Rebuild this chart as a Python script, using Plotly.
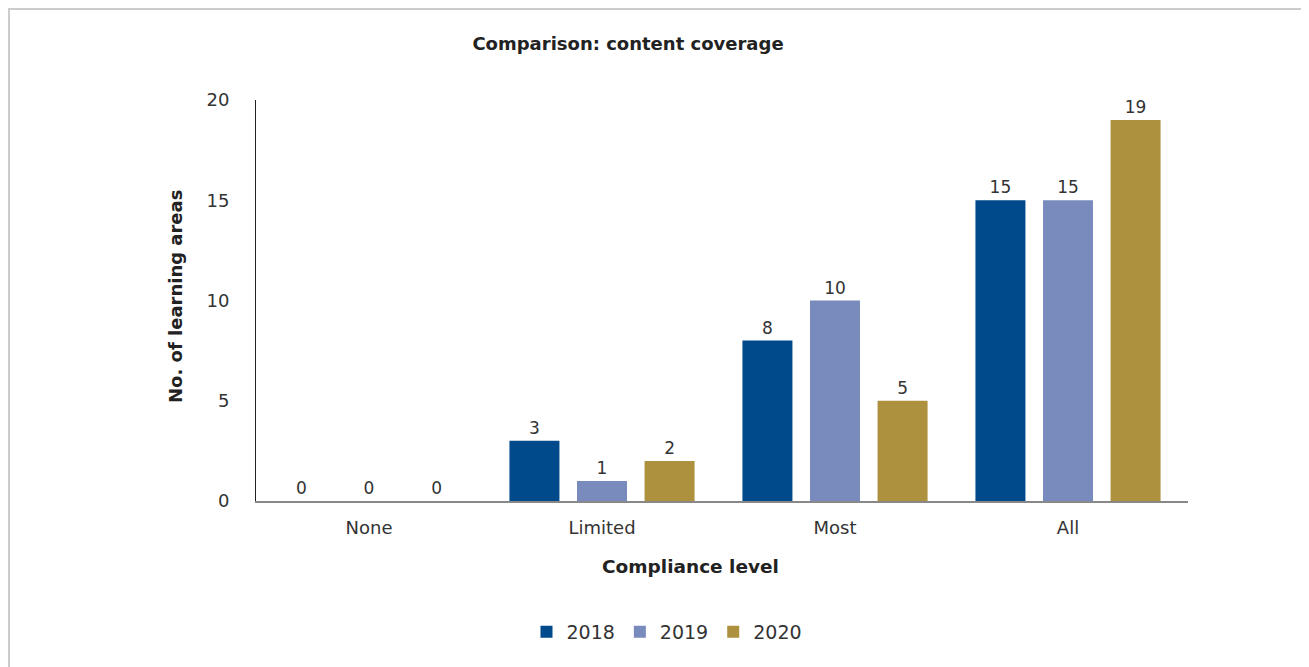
import plotly.graph_objects as go

categories = ["None", "Limited", "Most", "All"]
years = ["2018", "2019", "2020"]
values_2018 = [0, 3, 8, 15]
values_2019 = [0, 1, 10, 15]
values_2020 = [0, 2, 5, 19]
colors = ["#004A8C", "#798BBD", "#AD913E"]
y_ticks = [0, 5, 10, 15, 20]

OFF = 8  # default page body margin
W, H = 1309 - OFF, 667 - OFF
# plot area in reference pixels: x 256..1188, y 100..501
L = 256 - OFF
R = W - (1188 - OFF)
T = 100 - OFF
B = H - (501 - OFF)
pw = W - L - R
ph = H - T - B

def px_x(x):
    return (x - OFF - L) / pw

def px_y(y):
    return (501 - y) / ph

FONT = "DejaVu Sans"
TXT = "#333333"

fig = go.Figure()
for yr, vals, col in zip(years, [values_2018, values_2019, values_2020], colors):
    fig.add_trace(go.Bar(
        x=categories, y=vals, name=yr, marker=dict(color=col, line=dict(width=0)),
        text=[str(v) for v in vals], textposition="outside", cliponaxis=False,
        textfont=dict(family=FONT, size=17, color=TXT),
    ))

fig.update_layout(
    width=W, height=H,
    margin=dict(l=L, r=R, t=T, b=B, autoexpand=False),
    paper_bgcolor="white", plot_bgcolor="white",
    barmode="group", bargap=0.13, bargroupgap=0.26,
    font=dict(family=FONT, color=TXT, size=18),
    title=dict(text="<b>Comparison: content coverage</b>", x=px_x(628), xref="paper",
               xanchor="center", y=1 - (44 - OFF) / H, yref="container", yanchor="middle",
               font=dict(family=FONT, size=18, color="#222222")),
    xaxis=dict(showgrid=False, showline=True, linecolor="#888888", linewidth=2,
               range=[-0.485, 3.515],
               ticks="", tickfont=dict(size=18, color=TXT), ticklabelstandoff=9),
    yaxis=dict(range=[0, 20], tickvals=y_ticks, showgrid=False, zeroline=False,
               showline=True, linecolor="#222222", linewidth=1, ticks="",
               tickfont=dict(size=18, color=TXT), ticklabelstandoff=22),
    legend=dict(orientation="h", x=px_x(667), xanchor="center", y=px_y(632), yanchor="middle",
                font=dict(size=19, color=TXT), itemwidth=30, traceorder="normal"),
    showlegend=True,
)

fig.add_annotation(text="<b>No. of learning areas</b>", textangle=-90, x=px_x(175), y=px_y(297),
                   xref="paper", yref="paper", showarrow=False, xanchor="center", yanchor="middle",
                   font=dict(size=18, color="#222222"))
fig.add_annotation(text="<b>Compliance level</b>", x=px_x(690), y=px_y(566),
                   xref="paper", yref="paper", showarrow=False, xanchor="center", yanchor="middle",
                   font=dict(size=18.5, color="#222222"))

fig.add_shape(type="rect", xref="paper", yref="paper",
              x0=px_x(9), x1=px_x(1307), y0=px_y(690), y1=px_y(9),
              line=dict(color="#CCCCCC", width=2), fillcolor="rgba(0,0,0,0)", layer="below")

fig.write_html("out.html")
